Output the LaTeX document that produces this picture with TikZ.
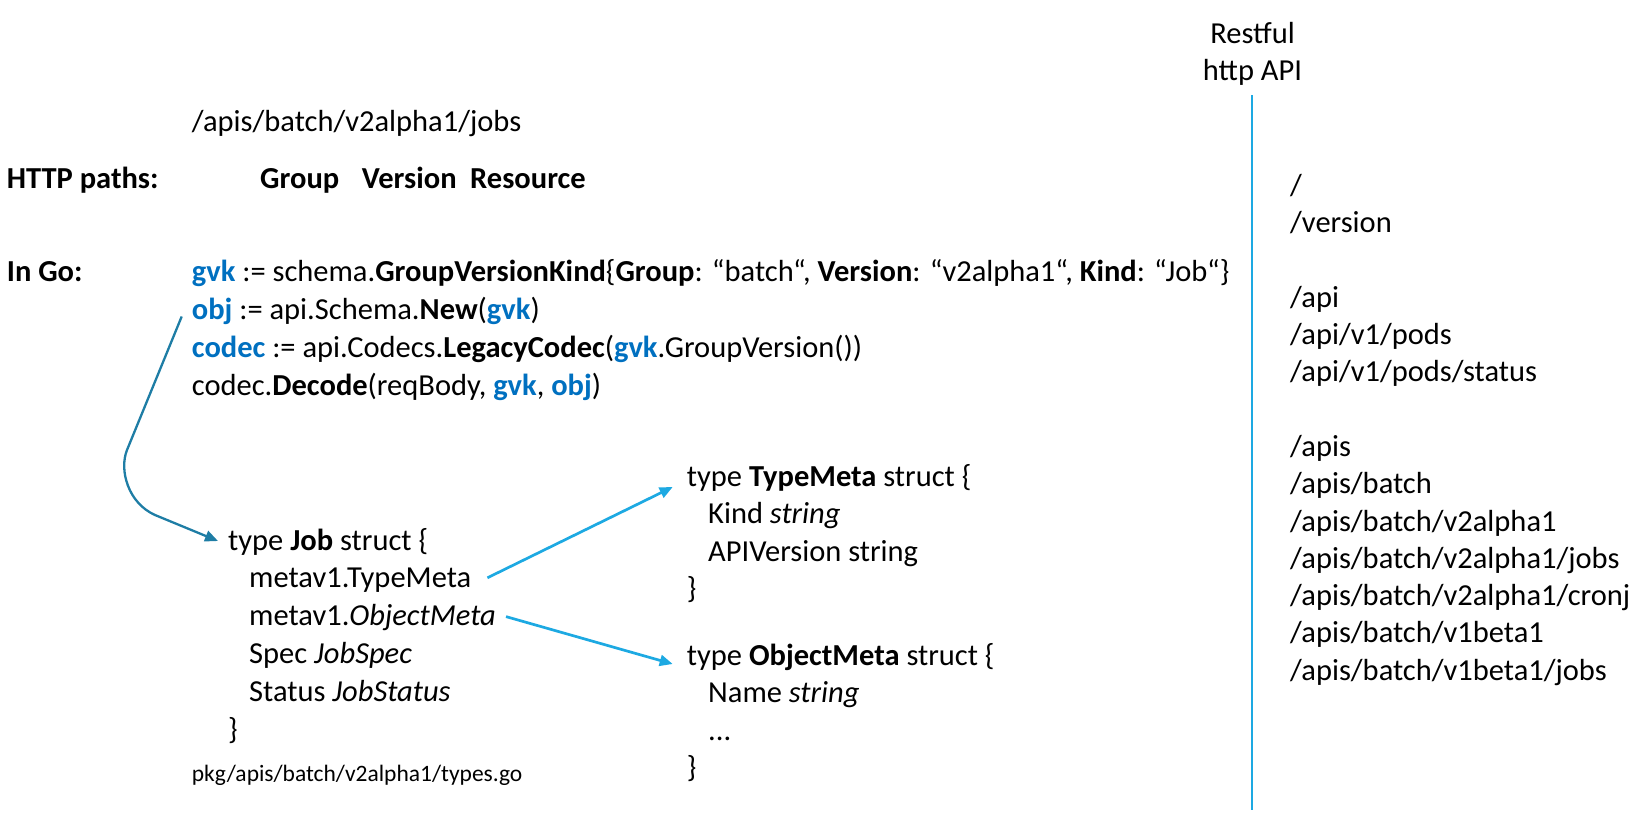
\documentclass[tikz,border=0pt]{standalone}
\usepackage{fontspec}
\setmainfont{Carlito}
\usetikzlibrary{arrows.meta,calc}
\definecolor{kwblue}{RGB}{0,112,192}
\definecolor{lblue}{RGB}{29,169,226}
\definecolor{dteal}{RGB}{30,125,165}
\newcommand{\kwd}[1]{\textcolor{kwblue}{\textbf{#1}}}
\begin{document}
\begin{tikzpicture}[x=1pt,y=-1pt,
  txt/.style={anchor=base west,inner sep=0pt,font=\fontsize{30.5}{37.5}\selectfont},
  smalltxt/.style={anchor=base west,inner sep=0pt,font=\fontsize{23.5}{28}\selectfont},
  conn/.style={lblue,line width=2.7pt,-{Triangle[length=13pt,width=11pt]}},
  curveconn/.style={dteal,line width=2.3pt,-{Triangle[length=13pt,width=11pt]}}]
\useasboundingbox (0,0) rectangle (1637,814);
% header
\node[txt] (path) at (191.7,131.7) {/apis/batch/v2alpha1/jobs};
\node[txt] (httpl) at (6.7,188) {\textbf{HTTP paths:}};
\node[txt] (grp) at (260,188) {\textbf{Group}};
\node[txt] (ver) at (361.7,188) {\textbf{Version}};
\node[txt] (res) at (470,188) {\textbf{Resource}};
% go code
\node[txt] (ingo) at (6.7,281.7) {\textbf{In Go:}};
\node[txt] (l1) at (191.7,281.7) {\kwd{gvk} := schema.\textbf{GroupVersionKind}\{\textbf{Group}: “batch“, \textbf{Version}: “v2alpha1“, \textbf{Kind}: “Job“\}};
\node[txt] (l2) at (191.7,319.5) {\kwd{obj} := api.Schema.\textbf{New}(\kwd{gvk})};
\node[txt] (l3) at (191.7,357.3) {\kwd{codec} := api.Codecs.\textbf{LegacyCodec}(\kwd{gvk}.GroupVersion())};
\node[txt] (l4) at (191.7,395) {codec.\textbf{Decode}(reqBody, \kwd{gvk}, \kwd{obj})};
% Job struct
\node[txt] (job) at (228,550) {type \textbf{Job} struct \{};
\node[txt] (jtm) at (249,587.8) {metav1.TypeMeta};
\node[txt] (jom) at (249,625.6) {metav1.\textit{ObjectMeta}};
\node[txt] (jspec) at (249,663.4) {Spec \textit{JobSpec}};
\node[txt] (jstat) at (249,701.2) {Status \textit{JobStatus}};
\node[txt] (jend) at (228,739) {\}};
\node[smalltxt] (file) at (191.7,781) {pkg/apis/batch/v2alpha1/types.go};
% TypeMeta struct
\node[txt] (tm) at (686.7,486) {type \textbf{TypeMeta} struct \{};
\node[txt] (tmk) at (708,523.5) {Kind \textit{string}};
\node[txt] (tma) at (708,561) {APIVersion string};
\node[txt] (tme) at (686.7,598.5) {\}};
% ObjectMeta struct
\node[txt] (om) at (686.7,665) {type \textbf{ObjectMeta} struct \{};
\node[txt] (omn) at (708,702.5) {Name \textit{string}};
\node[txt] (omd) at (708,740) {...};
\node[txt] (ome) at (686.7,777.5) {\}};
% right column
\node[txt,anchor=base] (rest) at (1252.5,43) {Restful};
\node[txt,anchor=base] (http) at (1252.5,80) {http API};
\coordinate (vtop) at (1252,95);
\coordinate (vbot) at (1252,810);
\draw[lblue,line width=2pt] (vtop) -- (vbot);
\node[txt] (r1) at (1290,195.3) {/};
\node[txt] (r2) at (1290,232.6) {/version};
\node[txt] (r3) at (1290,307.2) {/api};
\node[txt] (r4) at (1290,344.5) {/api/v1/pods};
\node[txt] (r5) at (1290,381.8) {/api/v1/pods/status};
\node[txt] (r6) at (1290,456.4) {/apis};
\node[txt] (r7) at (1290,493.7) {/apis/batch};
\node[txt] (r8) at (1290,531) {/apis/batch/v2alpha1};
\node[txt] (r9) at (1290,568.3) {/apis/batch/v2alpha1/jobs};
\node[txt] (r10) at (1290,605.6) {/apis/batch/v2alpha1/cronj};
\node[txt] (r11) at (1290,642.9) {/apis/batch/v1beta1};
\node[txt] (r12) at (1290,680.2) {/apis/batch/v1beta1/jobs};
% connectors
\coordinate (cs) at ($(l2.base west)+(-10,-3)$);
\coordinate (ce) at ($(job.base west)+(-10,-9)$);
\draw[curveconn] (cs) -- (127,450) .. controls (119,470) and (128,503) .. (155,515) -- (ce);
\coordinate (a1s) at ($(jtm.base east)+(16,-10)$);
\coordinate (a1e) at ($(tm.base west)+(-14,1)$);
\draw[conn] (a1s) -- (a1e);
\coordinate (a2s) at ($(jom.base east)+(10,-9)$);
\coordinate (a2e) at ($(om.base west)+(-14,-1)$);
\draw[conn] (a2s) -- (a2e);
\end{tikzpicture}
\end{document}
